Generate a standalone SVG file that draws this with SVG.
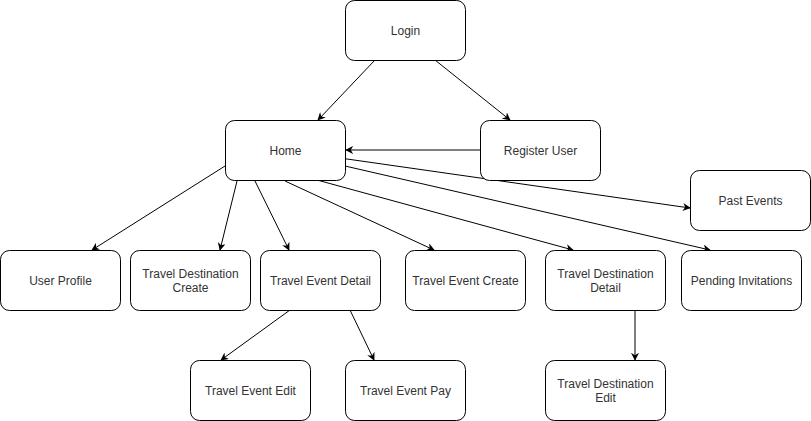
<svg xmlns="http://www.w3.org/2000/svg" width="811" height="421" viewBox="0 0 811 421">
<style>
.n rect{fill:#fff;stroke:#000;stroke-width:1}
.n text{font-family:"Liberation Sans",Arial,sans-serif;font-size:12px;fill:#333;text-anchor:middle}
.c path{fill:none;stroke:#000;stroke-width:1;marker-end:url(#a)}
</style>
<defs>
<marker id="a" viewBox="0 0 10 10" refX="9" refY="5" markerWidth="8" markerHeight="8" markerUnits="userSpaceOnUse" orient="auto">
<path d="M0,0 L10,5 L0,10 L3,5 Z" fill="#000"/>
</marker>
</defs>
<rect width="811" height="421" fill="#fff"/>
<g class="c">
<path d="M375,60 L318,120"/>
<path d="M435,60 L510,120"/>
<path d="M480,150 L346,150"/>
<path d="M225,166 L92,250"/>
<path d="M237,181 L220,250"/>
<path d="M255,181 L289,250"/>
<path d="M285,181 L434,250"/>
<path d="M317,180 L573,250"/>
<path d="M345,166 L710,250"/>
<path d="M340,158 L690,208"/>
<path d="M290,310 L221,360"/>
<path d="M350,310 L374,360"/>
<path d="M635,310 L635,360"/>
</g>
<g id="login" class="n"><rect x="345.5" y="0.5" width="120" height="60" rx="9"/><text x="405.5" y="35">Login</text></g>
<g id="home" class="n"><rect x="225.5" y="120.5" width="120" height="60" rx="9"/><text x="285.5" y="155">Home</text></g>
<g id="register" class="n"><rect x="480.5" y="120.5" width="120" height="60" rx="9"/><text x="540.5" y="155">Register User</text></g>
<g id="past" class="n"><rect x="690.5" y="170.5" width="120" height="60" rx="9"/><text x="750.5" y="205">Past Events</text></g>
<g id="profile" class="n"><rect x="0.5" y="250.5" width="120" height="60" rx="9"/><text x="60.5" y="285">User Profile</text></g>
<g id="tdc" class="n"><rect x="130.5" y="250.5" width="120" height="60" rx="9"/><text x="190.5" y="278">Travel Destination</text><text x="190.5" y="292">Create</text></g>
<g id="ted" class="n"><rect x="260.5" y="250.5" width="120" height="60" rx="9"/><text x="320.5" y="285">Travel Event Detail</text></g>
<g id="tec" class="n"><rect x="405.5" y="250.5" width="120" height="60" rx="9"/><text x="465.5" y="285">Travel Event Create</text></g>
<g id="tdd" class="n"><rect x="545.5" y="250.5" width="120" height="60" rx="9"/><text x="605.5" y="278">Travel Destination</text><text x="605.5" y="292">Detail</text></g>
<g id="pi" class="n"><rect x="681.5" y="250.5" width="120" height="60" rx="9"/><text x="741.5" y="285">Pending Invitations</text></g>
<g id="tee" class="n"><rect x="190.5" y="360.5" width="120" height="60" rx="9"/><text x="250.5" y="395">Travel Event Edit</text></g>
<g id="tep" class="n"><rect x="345.5" y="360.5" width="120" height="60" rx="9"/><text x="405.5" y="395">Travel Event Pay</text></g>
<g id="tde" class="n"><rect x="545.5" y="360.5" width="120" height="60" rx="9"/><text x="605.5" y="388">Travel Destination</text><text x="605.5" y="402">Edit</text></g>
</svg>
